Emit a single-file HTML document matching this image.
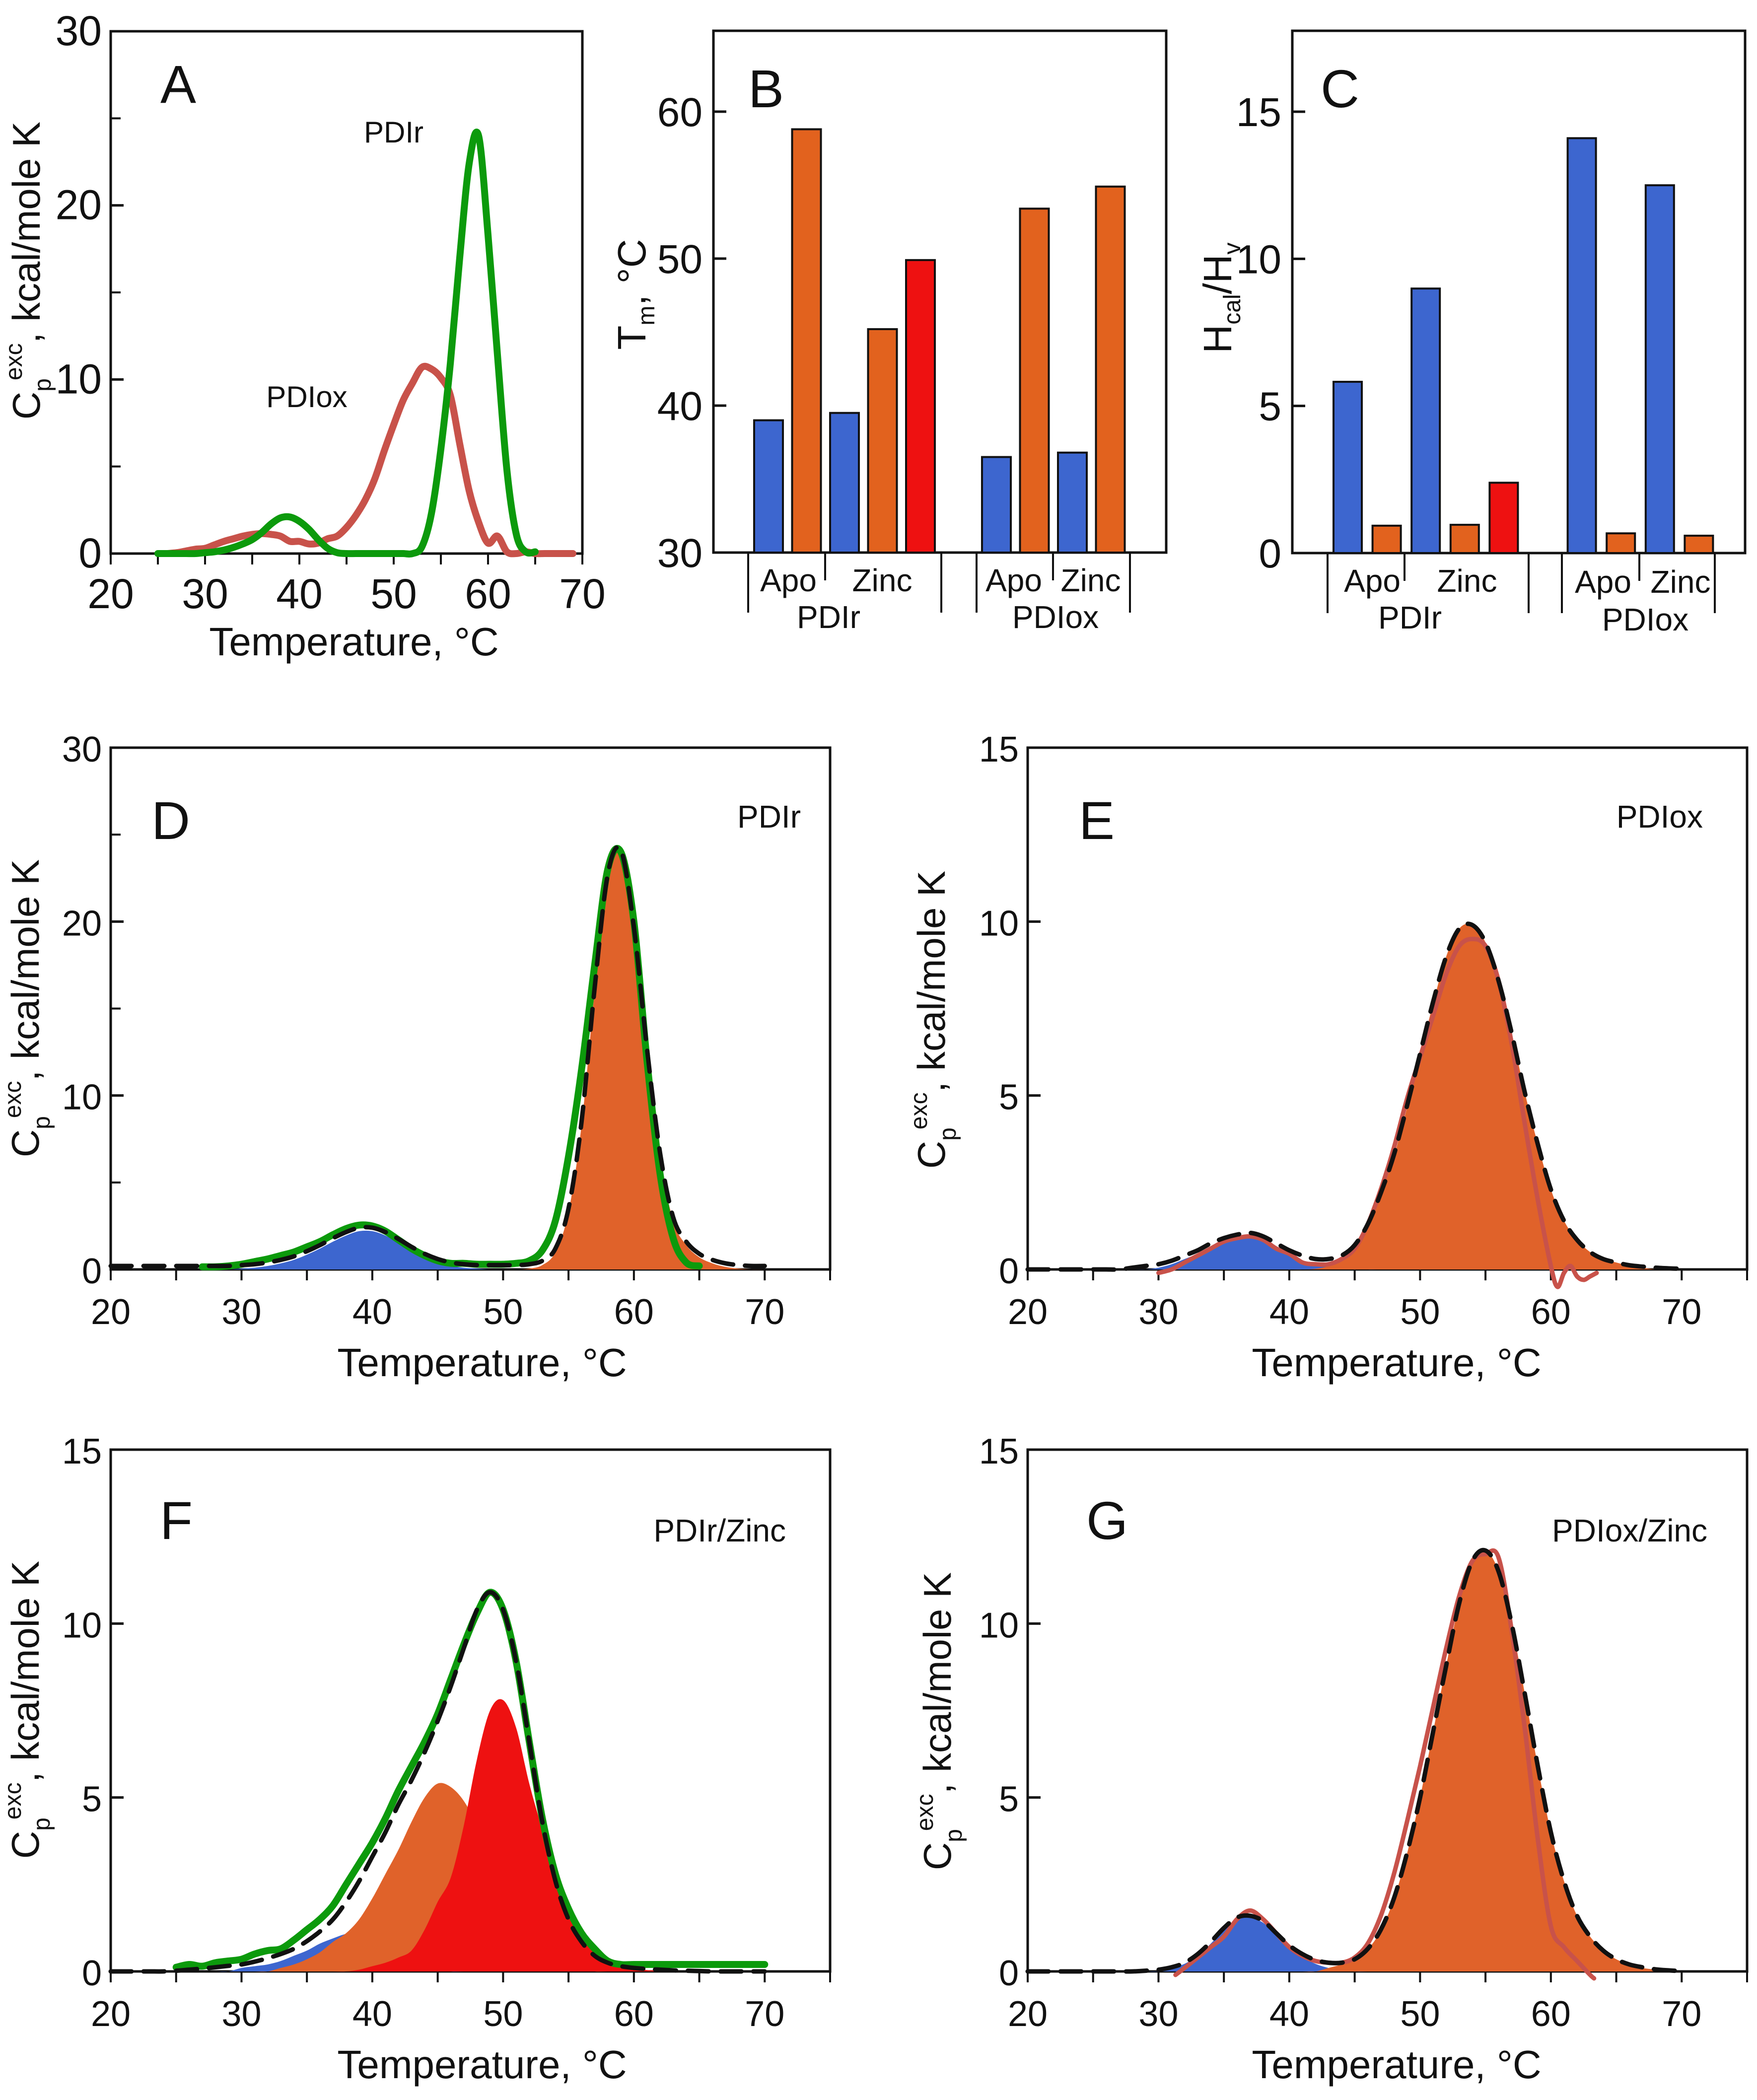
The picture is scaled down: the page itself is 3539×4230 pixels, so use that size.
<!DOCTYPE html>
<html><head><meta charset="utf-8">
<style>
html,body{margin:0;padding:0;background:#fff;}
svg{display:block;}
text{font-family:"Liberation Sans Narrow","Liberation Sans",sans-serif;fill:#111;}
text.w{font-family:"Liberation Sans",sans-serif;}
</style></head>
<body>
<svg id="fig" width="3539" height="4230" viewBox="0 0 3539 4230"></svg>
<script>
// ---------- data ----------
const xTickLabels = [20,30,40,50,60,70];
const yTicks30 = [0,10,20,30];
const yTicks15 = [0,5,10,15];
const yTicksB = [30,40,50,60];
const yTicksC = [0,5,10,15];

// Panel A
const tGreenA = [25,26,27,28,29,30,31,32,33,34,35,36,37,38,39,40,41,42,43,44,45,46,47,48,49,50,51,52,53,54,55,56,57,58,59,60,61,62,63,64,65];
const greenA = [0,0,0,0,0,0.05,0.1,0.2,0.35,0.55,0.8,1.2,1.7,2.05,2.1,1.85,1.4,0.8,0.3,0.05,0,0,0,0,0,0,0,0,0.4,2.3,6.0,10.9,17,22.4,24,18.3,11.4,4.8,1.1,0.1,0.1];
const tRedA = [26,27,28,29,30,31,32,33,34,35,36,37,38,39,40,41,42,43,44,45,46,47,48,49,50,51,52,53,54,55,56,57,58,59,60,61,62,63,64,65,66,67,68,69];
const redA = [0,0.05,0.15,0.25,0.3,0.5,0.7,0.85,1.0,1.1,1.15,1.1,1.0,0.7,0.7,0.55,0.6,0.85,1.0,1.5,2.2,3.1,4.3,5.9,7.4,8.8,9.8,10.7,10.6,10.1,9.1,6.3,3.6,1.8,0.6,1.0,0.1,0,0.1,0,0,0,0,0];

// Common temperature grid for fits
const tGrid = [20,21,22,23,24,25,26,27,28,29,30,31,32,33,34,35,36,37,38,39,40,41,42,43,44,45,46,47,48,49,50,51,52,53,54,55,56,57,58,59,60,61,62,63,64,65,66,67,68,69,70];

// Panel D
const fitD = [0.2,0.2,0.2,0.2,0.2,0.2,0.2,0.2,0.2,0.2,0.25,0.3,0.4,0.55,0.75,1.05,1.4,1.8,2.15,2.4,2.4,2.15,1.75,1.3,0.9,0.6,0.4,0.3,0.25,0.25,0.25,0.25,0.3,0.5,1.2,3.5,8.5,16.2,22.7,24.1,19.7,12.7,6.7,3.0,1.6,0.9,0.55,0.35,0.25,0.2,0.2];
const blueD = [0,0,0,0,0,0,0,0,0,0,0.05,0.1,0.2,0.35,0.55,0.85,1.2,1.6,1.95,2.2,2.2,1.95,1.55,1.1,0.7,0.4,0.2,0.1,0.05,0,0,0,0,0,0,0,0,0,0,0,0,0,0,0,0,0,0,0,0,0,0];
const orangeD = [0,0,0,0,0,0,0,0,0,0,0,0,0,0,0,0,0,0,0,0,0,0,0,0,0,0,0,0,0,0,0,0,0.05,0.25,1.0,3.3,8.3,16,22.5,23.9,19.5,12.5,6.5,2.8,1.4,0.7,0.35,0.15,0.05,0,0];
const tGreenD = [27,28,29,30,31,32,33,34,35,36,37,38,39,40,41,42,43,44,45,46,47,48,49,50,51,52,53,54,55,56,57,58,59,60,61,62,63,64,65];
const greenD = [0.15,0.15,0.2,0.3,0.45,0.6,0.8,1.0,1.3,1.6,2.0,2.35,2.55,2.5,2.2,1.7,1.2,0.8,0.5,0.35,0.35,0.3,0.3,0.3,0.35,0.5,1.1,2.8,6.5,11.5,17.5,23,24,20,12,5.5,1.8,0.4,0.2];

// Panel E
const fitE = [0,0,0,0,0,0,0,0,0.05,0.1,0.15,0.25,0.4,0.55,0.75,0.9,1.0,1.05,0.95,0.75,0.55,0.4,0.3,0.3,0.4,0.7,1.3,2.2,3.3,4.7,6.2,7.7,9.0,9.8,9.9,9.4,8.3,6.8,5.1,3.6,2.3,1.4,0.85,0.5,0.3,0.2,0.12,0.08,0.05,0.03,0.02];
const blueE = [0,0,0,0,0,0,0,0,0,0,0.05,0.15,0.3,0.45,0.65,0.8,0.9,0.95,0.85,0.65,0.45,0.25,0.15,0.08,0.04,0.02,0,0,0,0,0,0,0,0,0,0,0,0,0,0,0,0,0,0,0,0,0,0,0,0,0];
const orangeE = [0,0,0,0,0,0,0,0,0,0,0,0,0,0,0,0,0,0,0,0,0,0,0.02,0.1,0.3,0.65,1.25,2.15,3.25,4.65,6.15,7.65,9.0,9.8,9.9,9.4,8.3,6.8,5.1,3.6,2.3,1.4,0.85,0.5,0.3,0.2,0.1,0.05,0,0,0];
const tRedE = [30,31,32,33,34,35,36,37,38,39,40,41,42,43,44,45,46,47,48,49,50,51,52,53,54,55,56,57,58,59,60,60.5,61,61.5,62,62.5,63,63.5];
const redE = [-0.1,0,0.2,0.4,0.6,0.8,0.9,0.95,0.85,0.6,0.45,0.2,0.15,0.15,0.3,0.6,1.3,2.3,3.5,4.9,6.1,7.3,8.5,9.3,9.5,9.3,8.3,6.5,4.2,2.0,0.1,-0.5,-0.1,0.1,-0.2,-0.3,-0.2,-0.1];

// Panel F
const fitF = [0,0,0,0,0,0.02,0.05,0.08,0.12,0.16,0.2,0.28,0.38,0.5,0.65,0.87,1.15,1.5,2.0,2.6,3.3,4.0,4.8,5.5,6.3,7.2,8.2,9.3,10.4,10.9,10.4,8.9,6.6,4.3,2.6,1.5,0.85,0.45,0.25,0.15,0.1,0.07,0.05,0.03,0.02,0.01,0,0,0,0,0];
const blueF = [0,0,0,0,0,0,0,0,0,0,0.1,0.15,0.2,0.3,0.45,0.6,0.8,0.95,1.08,1.12,1.05,0.85,0.6,0.35,0.15,0.05,0,0,0,0,0,0,0,0,0,0,0,0,0,0,0,0,0,0,0,0,0,0,0,0,0];
const orangeF = [0,0,0,0,0,0,0,0,0,0,0,0,0,0.1,0.2,0.35,0.55,0.85,1.1,1.5,2.1,2.8,3.5,4.3,5.0,5.4,5.3,4.9,4.2,3.3,2.4,1.6,1.0,0.55,0.3,0.15,0.05,0,0,0,0,0,0,0,0,0,0,0,0,0,0];
const redF = [0,0,0,0,0,0,0,0,0,0,0,0,0,0,0,0,0,0,0,0.05,0.15,0.25,0.4,0.6,1.2,2.0,2.7,4.2,6.1,7.5,7.8,7.0,5.4,4.1,3.0,2.0,1.2,0.7,0.35,0.15,0.08,0.04,0.02,0,0,0,0,0,0,0,0];
const tGreenF = [25,26,27,28,29,30,31,32,33,34,35,36,37,38,39,40,41,42,43,44,45,46,47,48,49,50,51,52,53,54,55,56,57,58,59,60,61,62,63,64,65,66,67,68,69,70];
const greenF = [0.12,0.2,0.15,0.25,0.3,0.35,0.5,0.6,0.65,0.9,1.2,1.5,1.9,2.5,3.1,3.7,4.4,5.2,5.9,6.6,7.4,8.4,9.4,10.3,10.9,10.4,8.9,6.6,4.4,2.8,1.8,1.1,0.65,0.3,0.2,0.2,0.2,0.2,0.2,0.2,0.2,0.2,0.2,0.2,0.2,0.2];

// Panel G
const fitG = [0,0,0,0,0,0,0,0,0,0.02,0.05,0.12,0.25,0.5,0.85,1.25,1.55,1.6,1.45,1.1,0.75,0.5,0.33,0.25,0.25,0.35,0.65,1.2,2.1,3.4,5.0,6.9,8.8,10.6,11.8,12.1,11.5,10.0,8.0,5.9,4.0,2.6,1.6,1.0,0.6,0.35,0.2,0.12,0.06,0.03,0.01];
const blueG = [0,0,0,0,0,0,0,0,0,0,0,0.1,0.22,0.45,0.8,1.2,1.5,1.55,1.4,1.05,0.7,0.42,0.22,0.1,0.04,0,0,0,0,0,0,0,0,0,0,0,0,0,0,0,0,0,0,0,0,0,0,0,0,0,0];
const orangeG = [0,0,0,0,0,0,0,0,0,0,0,0,0,0,0,0,0,0,0,0,0,0,0,0.1,0.2,0.32,0.63,1.18,2.08,3.38,5.0,6.9,8.8,10.6,11.8,12.1,11.5,10.0,8.0,5.9,4.0,2.6,1.6,1.0,0.6,0.35,0.2,0.1,0.05,0,0];
const tRedG = [31.3,32,33,34,35,36,37,38,39,40,41,42,43,44,45,46,47,48,49,50,51,52,53,54,55,56,57,58,59,60,61,62,63,63.3];
const redG = [-0.1,0.1,0.4,0.7,1.0,1.5,1.75,1.5,1.1,0.7,0.45,0.3,0.25,0.25,0.4,0.8,1.6,2.8,4.3,5.9,7.6,9.3,10.8,11.8,12.0,11.9,9.8,7.0,3.8,1.3,0.7,0.3,-0.1,-0.2];

// Bar panels B and C
const barGroup = ['PDIr','PDIr','PDIr','PDIr','PDIr','PDIox','PDIox','PDIox','PDIox'];
const barCond = ['Apo','Apo','Zinc','Zinc','Zinc','Apo','Apo','Zinc','Zinc'];
const barComp = ['d1','d2','d1','d2','d3','d1','d2','d1','d2'];
const tmVals = [39.0,58.8,39.5,45.2,49.9,36.5,53.4,36.8,54.9];
const ratioVals = [5.82,0.93,8.99,0.96,2.39,14.1,0.67,12.5,0.59];

// ---------- drawing ----------
const NS = 'http://www.w3.org/2000/svg';
const svg = document.getElementById('fig');
const COL = {green:'#0c9a0c', redline:'#c8524a', blue:'#3d66cf', orange:'#e0622a', red:'#ee1111', d1:'#3d66cf', d2:'#e2621e', d3:'#ee1111'};
function mk(tag, attrs, parent){const e=document.createElementNS(NS,tag);for(const k in attrs)e.setAttribute(k,attrs[k]);(parent||svg).appendChild(e);return e;}
function smooth(pts){
  let d='M'+pts[0][0].toFixed(1)+','+pts[0][1].toFixed(1);
  for(let i=0;i<pts.length-1;i++){
    const p0=pts[Math.max(0,i-1)],p1=pts[i],p2=pts[i+1],p3=pts[Math.min(pts.length-1,i+2)];
    const c1x=p1[0]+(p2[0]-p0[0])/6,c1y=p1[1]+(p2[1]-p0[1])/6;
    const c2x=p2[0]-(p3[0]-p1[0])/6,c2y=p2[1]-(p3[1]-p1[1])/6;
    d+=' C'+c1x.toFixed(1)+','+c1y.toFixed(1)+' '+c2x.toFixed(1)+','+c2y.toFixed(1)+' '+p2[0].toFixed(1)+','+p2[1].toFixed(1);
  }
  return d;
}
function scales(P){
  return {sx:t=>P.x0+(t-P.xmin)/(P.xmax-P.xmin)*(P.x1-P.x0), sy:v=>P.yb-(v-P.ymin)/(P.ymax-P.ymin)*(P.yb-P.yt)};
}
function pts(S,ts,vs){return ts.map((t,i)=>[S.sx(t),S.sy(vs[i])]);}

function yTitle(g,x,y,kind){
  const t=mk('text',{transform:'translate('+x+','+y+') rotate(-90)','text-anchor':'middle','font-size':kind==='cp'?78:80,class:'w'},g);
  
  
  if(kind==='cp'){
    t.appendChild(document.createTextNode('C'));
    const s1=mk('tspan',{'font-size':48,dy:22},t); s1.textContent='p';
    const s2=mk('tspan',{'font-size':48,dy:-58,dx:-4},t); s2.textContent='exc';
    const s3=mk('tspan',{dy:36},t); s3.textContent=', kcal/mole K';
  } else if(kind==='tm'){
    t.appendChild(document.createTextNode('T'));
    const s1=mk('tspan',{'font-size':48,dy:18},t); s1.textContent='m';
    const s3=mk('tspan',{dy:-18},t); s3.textContent=', °C';
  } else {
    t.appendChild(document.createTextNode('H'));
    const s1=mk('tspan',{'font-size':48,dy:18},t); s1.textContent='cal';
    const s2=mk('tspan',{dy:-18},t); s2.textContent='/H';
    const s3=mk('tspan',{'font-size':48,dy:18},t); s3.textContent='v';
  }
}

function curveAxes(P,name,yTicks,minorY,letter,tag,title){
  const g=mk('g',{});
  
  
  const S=scales(P);
  P.g=g; P.S=S;
  const box=mk('rect',{x:P.x0,y:P.yt,width:P.x1-P.x0,height:P.yb-P.yt,fill:'none',stroke:'#111','stroke-width':5},g);
  
  
  yTicks.forEach(v=>{
    const y=S.sy(v);
    const tk=mk('line',{x1:P.x0,x2:P.x0+26,y1:y,y2:y,stroke:'#111','stroke-width':5},g);
    
    
    const lb=mk('text',{x:P.x0-18,y:y+28,'text-anchor':'end','font-size':P.fs},g);
    
    
    lb.textContent=v;
  });
  if(minorY){for(let v=minorY;v<P.ymax;v+=minorY*2){
    const y=S.sy(v);
    const tk=mk('line',{x1:P.x0,x2:P.x0+20,y1:y,y2:y,stroke:'#111','stroke-width':4},g);
    
    
  }}
  for(let t=P.xmin;t<=P.xmax;t+=5){
    const x=S.sx(t);
    const tk=mk('line',{x1:x,x2:x,y1:P.yb,y2:P.yb+22,stroke:'#111','stroke-width':4},g);
    
    
  }
  xTickLabels.forEach(t=>{
    const lb=mk('text',{x:S.sx(t),y:P.yb+110,'text-anchor':'middle','font-size':P.fs},g);
    
    
    lb.textContent=t;
  });
  const xt=mk('text',{x:P.xtc,y:P.yb+P.xto,'text-anchor':'middle','font-size':80},g);
  
  
  xt.textContent='Temperature, °C';
  yTitle(g,P.ytx,P.yty,'cp');
  const L=mk('text',{x:P.lx,y:P.ly,'font-size':108,class:'w'},g);
  
  
  L.textContent=letter;
  if(tag){
    const T=mk('text',{x:P.tx,y:P.ty,'text-anchor':P.ta||'end','font-size':64,class:'w'},g);
    
    
    T.textContent=tag;
  }
  return g;
}
function fillArea(P,ts,vs,color,name){
  const p=pts(P.S,ts,vs);
  const d=smooth(p)+' L'+p[p.length-1][0]+','+P.S.sy(0)+' L'+p[0][0]+','+P.S.sy(0)+' Z';
  const e=mk('path',{d:d,fill:color,stroke:'none'},P.g);
  
  
}
function line(P,ts,vs,color,w,dash,name){
  const a={d:smooth(pts(P.S,ts,vs)),fill:'none',stroke:color,'stroke-width':w,'stroke-linejoin':'round','stroke-linecap':'round'};
  if(dash)a['stroke-dasharray']=dash;
  const e=mk('path',a,P.g);
  
  
}

// Panel A
const PA={x0:223,x1:1173,xmin:20,xmax:70,yb:1115,yt:63,ymin:0,ymax:30,fs:84,xtc:713,xto:205,ytx:80,yty:545,lx:323,ly:207};
curveAxes(PA,'panel-a',yTicks30,5,'A',null);
line(PA,tRedA,redA,COL.redline,14,null,'pdiox-curve');
line(PA,tGreenA,greenA,COL.green,14,null,'pdir-curve');
[['PDIr',793,287,'pdir-label'],['PDIox',618,820,'pdiox-label']].forEach(a=>{
  const t=mk('text',{x:a[1],y:a[2],'text-anchor':'middle','font-size':60,class:'w'},PA.g);
  
  
  t.textContent=a[0];
});

// Panel D
const PD={x0:223,x1:1672,xmin:20,xmax:75,yb:2557,yt:1506,ymin:0,ymax:30,fs:72,xtc:971,xto:215,ytx:78,yty:2031,lx:305,ly:1690,tx:1613,ty:1667};
curveAxes(PD,'panel-d',yTicks30,5,'D','PDIr');
fillArea(PD,tGrid,blueD,COL.blue,'domain1-fill');
fillArea(PD,tGrid,orangeD,COL.orange,'domain2-fill');
line(PD,tGreenD,greenD,COL.green,14,null,'data-curve');
line(PD,tGrid,fitD,'#111',9,'42 24','fit-curve');

// Panel E
const PE={x0:2070,x1:3519,xmin:20,xmax:75,yb:2557,yt:1506,ymin:0,ymax:15,fs:72,xtc:2813,xto:215,ytx:1903,yty:2054,lx:2173,ly:1690,tx:3430,ty:1667};
curveAxes(PE,'panel-e',yTicks15,0,'E','PDIox');
fillArea(PE,tGrid,blueE,COL.blue,'domain1-fill');
fillArea(PE,tGrid,orangeE,COL.orange,'domain2-fill');
line(PE,tRedE,redE,COL.redline,9,null,'data-curve');
line(PE,tGrid,fitE,'#111',9,'42 24','fit-curve');

// Panel F
const PF={x0:223,x1:1672,xmin:20,xmax:75,yb:3971,yt:2920,ymin:0,ymax:15,fs:72,xtc:971,xto:215,ytx:78,yty:3444,lx:322,ly:3100,tx:1583,ty:3105};
curveAxes(PF,'panel-f',yTicks15,0,'F','PDIr/Zinc');
fillArea(PF,tGrid,blueF,COL.blue,'domain1-fill');
fillArea(PF,tGrid,orangeF,COL.orange,'domain2-fill');
fillArea(PF,tGrid,redF,COL.red,'domain3-fill');
line(PF,tGreenF,greenF,COL.green,14,null,'data-curve');
line(PF,tGrid,fitF,'#111',9,'42 24','fit-curve');

// Panel G
const PG={x0:2070,x1:3519,xmin:20,xmax:75,yb:3971,yt:2920,ymin:0,ymax:15,fs:72,xtc:2813,xto:215,ytx:1915,yty:3467,lx:2188,ly:3100,tx:3439,ty:3105};
curveAxes(PG,'panel-g',yTicks15,0,'G','PDIox/Zinc');
fillArea(PG,tGrid,blueG,COL.blue,'domain1-fill');
fillArea(PG,tGrid,orangeG,COL.orange,'domain2-fill');
line(PG,tRedG,redG,COL.redline,9,null,'data-curve');
line(PG,tGrid,fitG,'#111',9,'42 24','fit-curve');

// Bar panels
function barPanel(P,name,vals,yTicks,letter,kind){
  const g=mk('g',{});
  
  
  const sy=v=>P.yb-(v-P.ymin)/(P.ymax-P.ymin)*(P.yb-P.yt);
  const box=mk('rect',{x:P.x0,y:P.yt,width:P.x1-P.x0,height:P.yb-P.yt,fill:'none',stroke:'#111','stroke-width':5},g);
  
  
  yTicks.forEach(v=>{
    const y=sy(v);
    const tk=mk('line',{x1:P.x0,x2:P.x0+26,y1:y,y2:y,stroke:'#111','stroke-width':5},g);
    
    
    const lb=mk('text',{x:P.x0-22,y:y+29,'text-anchor':'end','font-size':82},g);
    
    
    lb.textContent=v;
  });
  let slot=0;
  vals.forEach((v,i)=>{
    if(i>0&&barGroup[i]!==barGroup[i-1])slot++;
    const x=P.bx+slot*P.step;
    const b=mk('rect',{x:x,y:sy(v),width:P.bw,height:P.yb-sy(v),fill:COL[barComp[i]],stroke:'#111','stroke-width':4},g);
    
    
    slot++;
  });
  P.long.forEach(x=>{
    const l=mk('line',{x1:x,x2:x,y1:P.yb,y2:P.yb+121,stroke:'#111','stroke-width':4},g);
    
    
  });
  P.short.forEach(x=>{
    const l=mk('line',{x1:x,x2:x,y1:P.yb,y2:P.yb+56,stroke:'#111','stroke-width':4},g);
    
    
  });
  P.labels.forEach(a=>{
    const t=mk('text',{x:a[1],y:P.yb+a[2],'text-anchor':'middle','font-size':64},g);
    
    
    t.textContent=a[0];
  });
  const L=mk('text',{x:P.lx,y:216,'font-size':108,class:'w'},g);
  
  
  L.textContent=letter;
  yTitle(g,P.ytx,P.yty,kind);
}
const PB={x0:1437,x1:2349,yb:1113,yt:62,ymin:30,ymax:65.5,bx:1519,step:76.5,bw:58,
  long:[1507,1896,1967,2276],short:[1662,2121],
  labels:[['Apo',1588,78],['Zinc',1777,78],['PDIr',1669,152],['Apo',2042,78],['Zinc',2197,78],['PDIox',2126,152]],
  lx:1507,ytx:1300,yty:593};
barPanel(PB,'panel-b',tmVals,yTicksB,'B','tm');
const PC={x0:2603,x1:3515,yb:1114,yt:62,ymin:0,ymax:17.75,bx:2686,step:78.6,bw:57,
  long:[2674,3079,3146,3454],short:[2829,3302],
  labels:[['Apo',2764,78],['Zinc',2955,78],['PDIr',2840,152],['Apo',3229,80],['Zinc',3385,80],['PDIox',3314,156]],
  lx:2660,ytx:2480,yty:600};
barPanel(PC,'panel-c',ratioVals,yTicksC,'C','h');
</script>
</body></html>
